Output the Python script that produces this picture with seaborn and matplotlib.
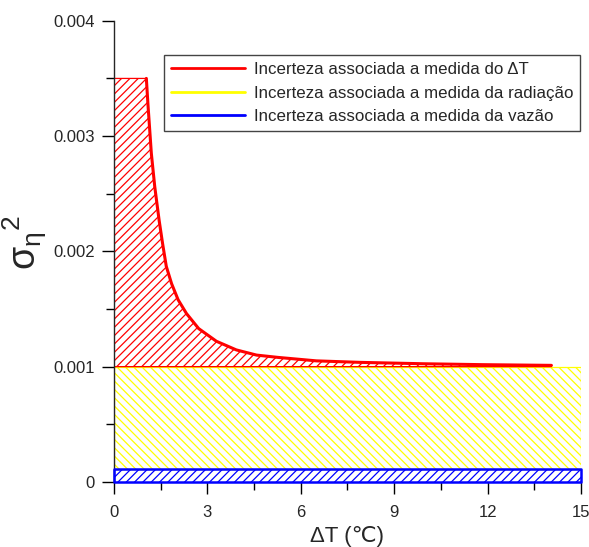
import numpy as np
import pandas as pd
import seaborn as sns
import matplotlib.pyplot as plt
from matplotlib.ticker import MultipleLocator
from matplotlib.lines import Line2D

# valores
delta_t = [0.0, 1.04, 1.09, 1.20, 1.31, 1.45, 1.56, 1.68, 1.85, 2.06, 2.33, 2.72, 3.29, 3.93,
           4.58, 5.27, 6.5, 7.9, 9.93, 11.85, 14.05]
sigma_dt = [0.0035, 0.0035, 0.00328, 0.00285, 0.00256, 0.00227, 0.00207, 0.00187, 0.00172,
            0.00158, 0.00146, 0.00133, 0.00122, 0.001145, 0.0011, 0.00108, 0.00105,
            0.001037, 0.001025, 0.001017, 0.001011]
x_faixa = [0, 15]
sigma_rad = 0.001     # topo da faixa da radiação
sigma_vaz = 0.00011   # topo da faixa da vazão

y_ticks = [0, 0.001, 0.002, 0.003, 0.004]
y_ticklabels = ["0", "0.001", "0.002", "0.003", "0.004"]

labels = ["Incerteza associada a medida do \u0394T",
          "Incerteza associada a medida da radiação",
          "Incerteza associada a medida da vazão"]
cores = ["#ff0000", "#ffff00", "#0000ff"]

df = pd.DataFrame({"dT": delta_t, "sigma": sigma_dt})

sns.set_style("ticks")
plt.rcParams['font.family'] = ['Liberation Sans', 'DejaVu Sans']
plt.rcParams['mathtext.fontset'] = 'custom'
plt.rcParams['mathtext.rm'] = 'Liberation Sans'
plt.rcParams['hatch.linewidth'] = 0.9

fig, ax = plt.subplots(figsize=(5.89, 5.47), dpi=100)
fig.subplots_adjust(left=0.1935, right=0.9864, bottom=0.119, top=0.962)

# faixa da vazão (azul)
ax.fill_between(x_faixa, 0, sigma_vaz, facecolor="none", edgecolor=cores[2],
                hatch="////", linewidth=1.8, clip_on=False, zorder=3)
# faixa da radiação (amarela)
ax.fill_between(x_faixa, sigma_vaz, sigma_rad, facecolor="none", edgecolor=cores[1],
                hatch="\\\\\\\\", linewidth=0.9, zorder=2)
# faixa do delta T (vermelha)
ax.fill_between(df["dT"], sigma_rad, df["sigma"], facecolor="none", edgecolor=cores[0],
                hatch="////", linewidth=0.9, zorder=2)
sns.lineplot(data=df.iloc[1:], x="dT", y="sigma", color=cores[0], linewidth=2.2,
             ax=ax, zorder=4)

ax.set_xlim(0, 15)
ax.set_ylim(0, 0.004)
ax.xaxis.set_major_locator(MultipleLocator(3))
ax.xaxis.set_minor_locator(MultipleLocator(1.5))
ax.set_yticks(y_ticks)
ax.set_yticklabels(y_ticklabels)
ax.yaxis.set_minor_locator(MultipleLocator(0.0005))

for s in ["top", "right", "bottom"]:
    ax.spines[s].set_visible(False)
ax.spines["left"].set_linewidth(1.0)

ax.tick_params(axis="both", which="major", length=8.6, width=1.0, labelsize=12, color="black")
ax.tick_params(axis="both", which="minor", length=5.5, width=1.0, color="black")
ax.tick_params(axis="x", which="major", pad=8)
ax.tick_params(axis="y", which="major", pad=5)

ax.set_xlabel("\u0394T (\u2103)", fontsize=16, labelpad=4)
ax.set_ylabel(r"$\mathrm{σ}_{\mathrm{η}}{}^{2}$", fontsize=27)
ax.yaxis.set_label_coords(-0.14, 0.52)

handles = [Line2D([], [], color=c, linewidth=2) for c in cores]
leg = ax.legend(handles, labels, loc="upper right", bbox_to_anchor=(0.998, 0.925),
                borderaxespad=0, fontsize=12.2, handlelength=4.4, handletextpad=0.5,
                labelspacing=0.5, fancybox=False, framealpha=1, edgecolor="#444444",
                borderpad=0.4)
leg.get_frame().set_linewidth(1.0)

plt.savefig("out.png", dpi=100)
